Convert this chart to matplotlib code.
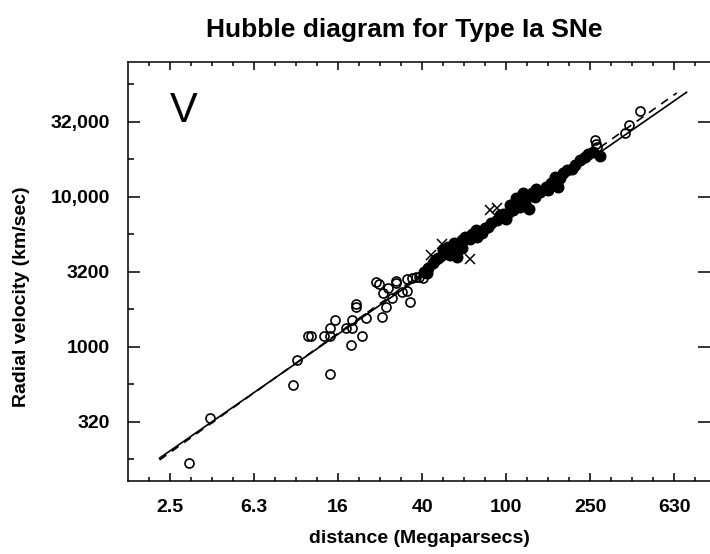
import numpy as np
import matplotlib.pyplot as plt

plt.rcParams['font.family'] = ['Liberation Sans', 'DejaVu Sans']

# open circles: nearby SNe (distance Mpc, velocity km/s)
open_d = [3.09, 3.91, 9.65, 10.08, 14.47, 11.4, 11.81, 13.55, 14.47, 14.47,
          15.37, 17.25, 18.22, 18.52, 18.52, 19.24, 19.24, 20.62, 21.63, 25.68,
          23.96, 24.85, 25.96, 26.83, 27.48, 28.65, 30.0, 30.0, 31.87, 33.55,
          33.78, 34.78, 35.75, 37.15, 38.39, 40.25,
          264.5, 268.9, 271.9, 367.5, 382.7, 433.2]
open_v = [168, 333, 553, 815, 658, 1178, 1178, 1178, 1178, 1343,
          1502, 1339, 1034, 1339, 1514, 1848, 1926, 1178, 1554, 1590,
          2713, 2611, 2280, 1854, 2474, 2128, 2754, 2659, 2316, 2351,
          2813, 1977, 2884, 2906, 2900, 2871,
          23700, 22450, 21350, 26460, 30200, 37260]

# filled circles
fill_d = [40.56, 42.52, 44.9, 45.77, 50.1, 51.06, 53.9, 58.44, 56.36, 61.3,
          63.6, 67.2, 72.3, 71.7, 76.4, 82.1, 84.3, 90.0, 93.3, 99.7,
          102.2, 108.0, 111.2, 116.2, 122.7, 128.7, 132.1, 137.0, 144.7, 154.5,
          162.7, 170.6, 176.9, 173.8, 186.8, 193.9, 204.8, 212.4, 224.4, 237.0,
          259.6, 279.4, 47.3, 52.8, 61.5, 79.2, 96.4, 120.1, 138.5, 180.2,
          244.9, 158.0, 104.1, 68.7, 57.6, 41.9]
fill_v = [3162, 3332, 3597, 3784, 4413, 4195, 4087, 3981, 4890, 5143,
          5361, 5200, 5412, 5998, 5754, 6310, 6648, 6992, 7551, 7068,
          7748, 8152, 9757, 8577, 9261, 8241, 10536, 10000, 10798, 11659,
          12285, 13594, 11552, 12589, 14322, 15066, 15230, 16266, 17567, 18479,
          19953, 18676, 3902, 4620, 4550, 6183, 7666, 10585, 11254, 13326,
          19260, 11084, 8804, 5640, 4413, 3099]

# crosses
cross_d = [43.8, 49.25, 67.2, 84.1, 90.0]
cross_v = [4087, 4838, 3843, 8117, 8368]

# fitted lines
solid_d = [2.24, 722]
solid_v = [181, 49700]
dash_d = [2.24, 648]
dash_v = [176, 49150]

xtick_exp = [0.4, 0.8, 1.2, 1.6, 2.0, 2.4, 2.8]
xtick_labels = ['2.5', '6.3', '16', '40', '100', '250', '630']
ytick_exp = [2.5, 3.0, 3.5, 4.0, 4.5]
ytick_labels = ['320', '1000', '3200', '10,000', '32,000']

fig = plt.figure(figsize=(7.1, 5.54), dpi=100)
ax = fig.add_axes([128 / 710, 73 / 554, 582 / 710, 419 / 554])

ax.plot(solid_d, solid_v, color='black', lw=1.2)
ax.plot(dash_d, dash_v, color='black', lw=1.2, dashes=(5, 4))
ax.plot(open_d, open_v, 'o', ms=6.5, mfc='none', mec='black', mew=1.2)
ax.plot(fill_d, fill_v, 'o', ms=7.6, color='black')
ax.plot(cross_d, cross_v, 'x', ms=6.5, color='black', mew=1.1)

ax.set_xscale('log')
ax.set_yscale('log')
ax.set_xlim(10 ** 0.2, 10 ** 2.97)
ax.set_ylim(10 ** 2.105, 10 ** 4.898)

ax.set_xticks([10 ** e for e in xtick_exp])
ax.set_xticklabels(xtick_labels)
ax.set_xticks([10 ** e for e in np.arange(0.3, 2.97, 0.1)], minor=True)
ax.set_yticks([10 ** e for e in ytick_exp])
ax.set_yticklabels(ytick_labels)
ax.set_yticks([10 ** e for e in np.arange(2.25, 4.9, 0.25)], minor=True)
ax.xaxis.set_minor_formatter(plt.NullFormatter())
ax.yaxis.set_minor_formatter(plt.NullFormatter())

ax.tick_params(which='both', direction='in', top=True, right=True, width=1.1)
ax.tick_params(axis='x', which='major', length=5.5, pad=13)
ax.tick_params(axis='x', which='minor', length=2.8)
ax.tick_params(axis='y', which='major', length=8.5, pad=13)
ax.tick_params(axis='y', which='minor', length=4.3, right=False)
for lab in ax.get_xticklabels() + ax.get_yticklabels():
    lab.set_fontsize(14)
    lab.set_fontweight('bold')
for s in ['left', 'bottom', 'top']:
    ax.spines[s].set_linewidth(1.1)
ax.spines['right'].set_visible(False)

# panel letter
ax.text(0.072, 0.93, 'V', transform=ax.transAxes, fontsize=30,
        va='top', ha='left')

fig.text(404 / 710, 1 - 30 / 554, 'Hubble diagram for Type Ia SNe',
         fontsize=19, fontweight='bold', ha='center', va='center')
ax.set_xlabel('distance (Megaparsecs)', fontsize=14, fontweight='bold', labelpad=10)
fig.text(22 / 710, 1 - 297 / 554, 'Radial velocity (km/sec)', fontsize=14,
         fontweight='bold', rotation=90, ha='center', va='center')

fig.savefig('out.png', dpi=100)
